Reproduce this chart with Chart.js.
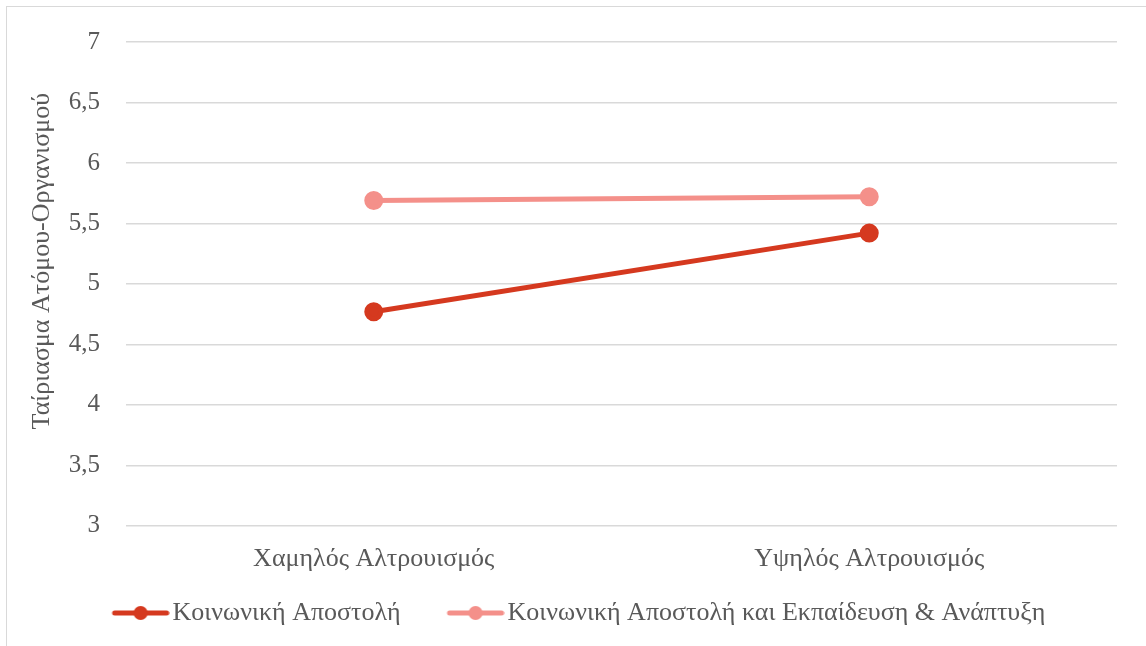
<!DOCTYPE html>
<html>
<head>
<meta charset="utf-8">
<script src="https://cdn.jsdelivr.net/npm/chart.js@4"></script>
<style>
  html, body { margin: 0; padding: 0; background: #fff; }
  #wrap {
    position: absolute; left: 6px; top: 6px; width: 1140px; height: 640px;
    border-left: 1.5px solid #d9d9d9; border-top: 1.5px solid #d9d9d9;
  }
  #chart { position: absolute; left: -6px; top: -6px; }
</style>
</head>
<body>
<div id="wrap"><canvas id="chart" width="1146" height="646"></canvas></div>
<script>
/* global Chart */

const categories = ["Χαμηλός Αλτρουισμός", "Υψηλός Αλτρουισμός"];
const seriesNames = ["Κοινωνική Αποστολή", "Κοινωνική Αποστολή και Εκπαίδευση & Ανάπτυξη"];
const mission = [4.77, 5.42];
const missionTraining = [5.69, 5.72];
const yTicks = [3, 3.5, 4, 4.5, 5, 5.5, 6, 6.5, 7];
const colors = ["#D5391F", "#F4908A"];

const serif = "'Liberation Serif', 'Times New Roman', serif";
const textColor = "#595959";

// legend marker: line with a dot, drawn in the right part of the image
// so the blank left part spaces the items apart
const markerBox = 87;
function legendMarker(color) {
  const c = document.createElement("canvas");
  c.width = markerBox + 20;
  c.height = 16;
  const g = c.getContext("2d");
  const x0 = c.width - 58;
  g.strokeStyle = color;
  g.lineWidth = 5;
  g.lineCap = "round";
  g.beginPath();
  g.moveTo(x0 + 3, 8);
  g.lineTo(x0 + 55, 8);
  g.stroke();
  g.fillStyle = color;
  g.beginPath();
  g.arc(x0 + 29, 8, 7, 0, Math.PI * 2);
  g.fill();
  return c;
}

const ctx = document.getElementById("chart").getContext("2d");

new Chart(ctx, {
  type: "line",
  data: {
    labels: categories,
    datasets: [
      {
        label: seriesNames[0],
        data: mission,
        borderColor: colors[0],
        backgroundColor: colors[0],
        borderWidth: 5,
        pointRadius: 7,
        pointStyle: "circle",
      },
      {
        label: seriesNames[1],
        data: missionTraining,
        borderColor: colors[1],
        backgroundColor: colors[1],
        borderWidth: 5,
        pointRadius: 7,
        pointStyle: "circle",
      },
    ],
  },
  options: {
    responsive: false,
    animation: false,
    layout: { padding: { left: 0, right: 30, top: 21, bottom: 11 } },
    scales: {
      x: {
        offset: true,
        grid: { display: false, drawTicks: false },
        border: { display: false },
        ticks: { color: textColor, font: { family: serif, size: 26 }, padding: 18 },
      },
      y: {
        min: 3,
        max: 7,
        afterBuildTicks: (axis) => {
          axis.ticks = yTicks.map((v) => ({ value: v }));
        },
        afterFit: (axis) => {
          axis.width = 125;
        },
        grid: { color: "#d9d9d9", lineWidth: 1.5, drawTicks: false },
        border: { display: false },
        ticks: {
          color: textColor,
          font: { family: serif, size: 25 },
          padding: 26,
          callback: (v) => String(v).replace(".", ","),
        },
        title: {
          display: true,
          // leading spaces lift the rotated title a little above the axis middle
          text: "\u00a0\u00a0\u00a0\u00a0\u00a0\u00a0\u00a0Ταίριασμα Ατόμου-Οργανισμού",
          color: textColor,
          font: { family: serif, size: 26 },
          padding: { top: 26, bottom: 0 },
        },
      },
    },
    plugins: {
      tooltip: { enabled: false },
      legend: {
        position: "bottom",
        align: "center",
        labels: {
          color: textColor,
          font: { family: serif, size: 26 },
          usePointStyle: true,
          pointStyleWidth: markerBox,
          padding: 7,
          generateLabels: (chart) =>
            chart.data.datasets.map((ds, i) => ({
              text: ds.label,
              pointStyle: legendMarker(colors[i]),
              fontColor: textColor,
              strokeStyle: colors[i],
              fillStyle: colors[i],
              lineWidth: 0,
              datasetIndex: i,
            })),
        },
      },
    },
  },
});
</script>
</body>
</html>
